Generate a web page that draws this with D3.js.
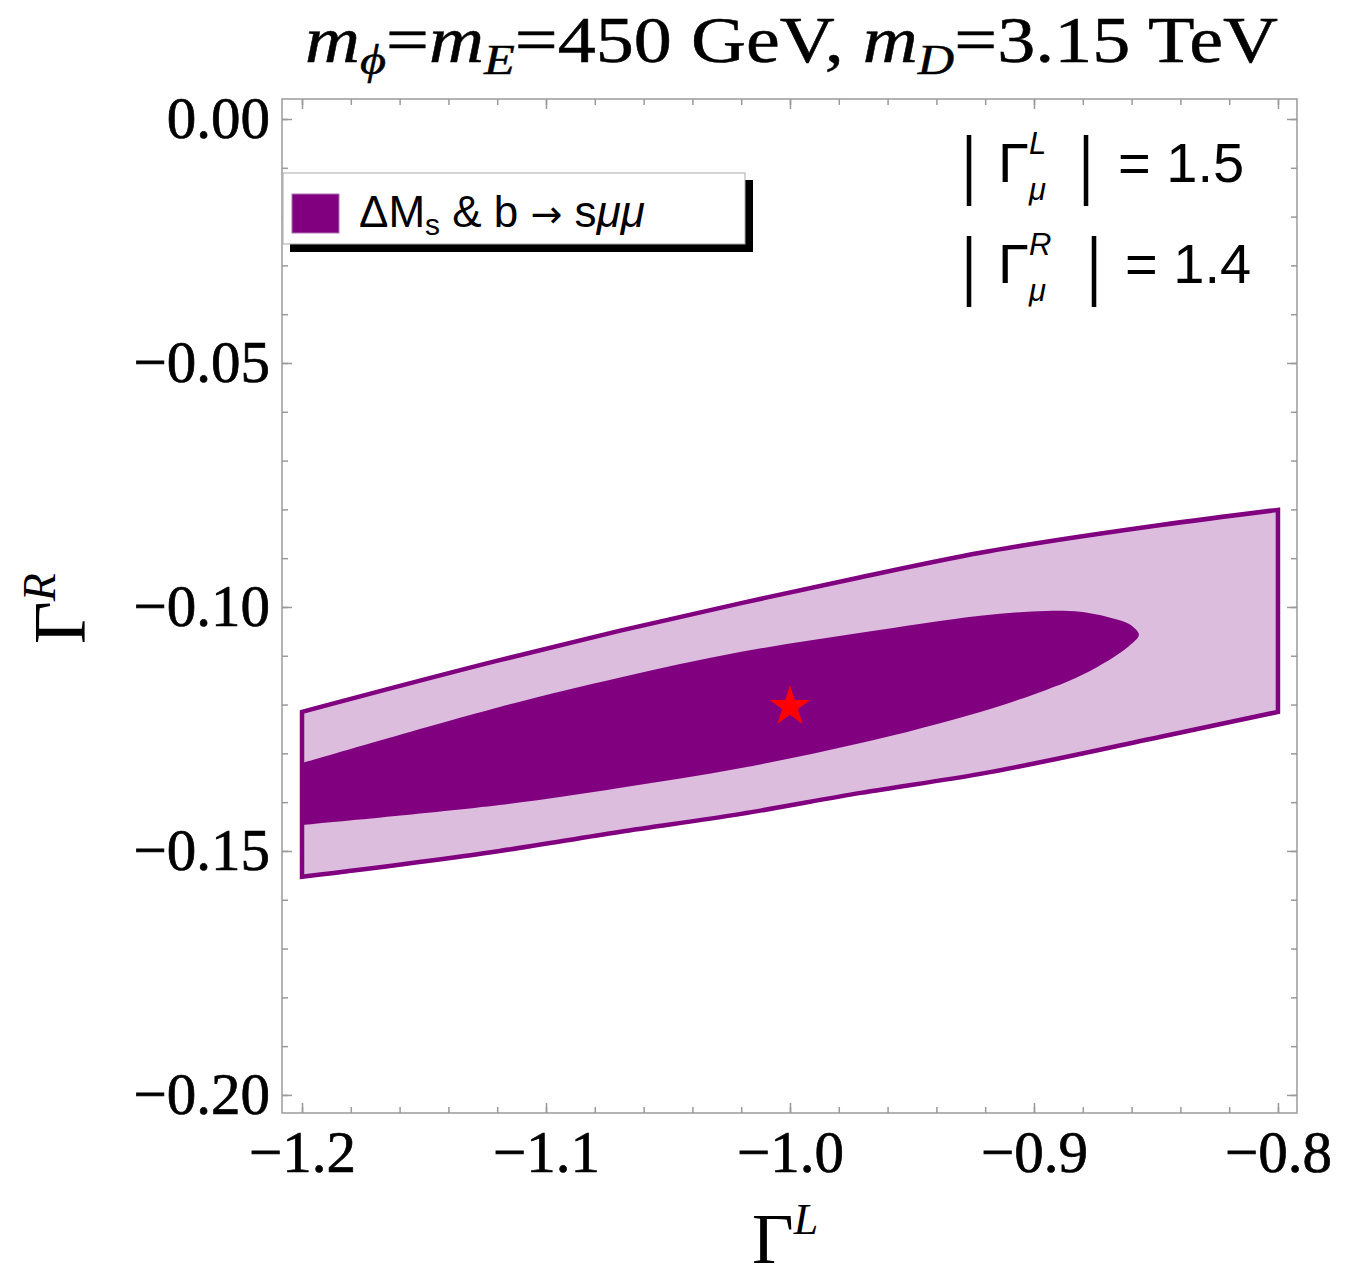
<!DOCTYPE html>
<html>
<head>
<meta charset="utf-8">
<script src="https://cdn.jsdelivr.net/npm/d3@7"></script>
<style>
  body { margin: 0; background: #fff; }
  svg { display: block; }
</style>
</head>
<body>
<svg id="chart"></svg>
<script>
// Outer allowed band (light)
const outerX = [-1.2, -1.119, -1.070, -1.020, -0.971, -0.922, -0.848, -0.8];
const outerTop = [-0.1215, -0.1109, -0.1049, -0.0992, -0.0939, -0.0889, -0.0832, -0.0801];
const outerBottom = [-0.1553, -0.1500, -0.1461, -0.1424, -0.1381, -0.1342, -0.1266, -0.1215];

// Inner region (dark), upper edge left -> tip, lower edge tip -> left
const innerUpperX = [-1.2, -1.119, -1.070, -1.020, -0.971, -0.922, -0.895, -0.881, -0.868, -0.861, -0.857];
const innerUpperY = [-0.1320, -0.1205, -0.1145, -0.1092, -0.1053, -0.1018, -0.1008, -0.1010, -0.1023, -0.1035, -0.1057];
const innerLowerX = [-0.861, -0.868, -0.881, -0.895, -0.922, -0.971, -1.020, -1.070, -1.119, -1.2];
const innerLowerY = [-0.1080, -0.1105, -0.1141, -0.1170, -0.1215, -0.1279, -0.1330, -0.1371, -0.1406, -0.1447];

// Best fit point
const starX = [-1.0];
const starY = [-0.12];

// Ticks
const xTickValues = [-1.2, -1.1, -1.0, -0.9, -0.8];
const yTickValues = [0, -0.05, -0.10, -0.15, -0.20];

const width = 1367, height = 1280;
const svg = d3.select("#chart").attr("width", width).attr("height", height);

const purple = "#800080";
const lightPurple = "#DDBDDD";
const frameGray = "#9a9a9a";

// frame box in pixels
const fLeft = 282, fRight = 1297, fTop = 99, fBottom = 1113;

const x = d3.scaleLinear().domain([-1.2082, -0.7922]).range([fLeft, fRight]);
const y = d3.scaleLinear().domain([0.0041, -0.2037]).range([fTop, fBottom]);

// light band
const band = outerX.map((v, i) => ({x: v, top: outerTop[i], bot: outerBottom[i]}));
const area = d3.area()
  .x(d => x(d.x))
  .y0(d => y(d.bot))
  .y1(d => y(d.top))
  .curve(d3.curveMonotoneX);

svg.append("path")
  .attr("d", area(band))
  .attr("fill", lightPurple);

// dark region
const inner = innerUpperX.map((v, i) => [v, innerUpperY[i]])
  .concat(innerLowerX.map((v, i) => [v, innerLowerY[i]]));
const innerLine = d3.line()
  .x(d => x(d[0]))
  .y(d => y(d[1]))
  .curve(d3.curveCatmullRom.alpha(0.5));

svg.append("path")
  .attr("d", innerLine(inner) + "Z")
  .attr("fill", purple);

// band outline on top
svg.append("path")
  .attr("d", area(band))
  .attr("fill", "none")
  .attr("stroke", purple)
  .attr("stroke-width", 4.5)
  .attr("stroke-linejoin", "miter");

// star
svg.selectAll(".star")
  .data(starX.map((v, i) => [v, starY[i]]))
  .enter()
  .append("path")
  .attr("class", "star")
  .attr("transform", d => `translate(${x(d[0])},${y(d[1]) + 2})`)
  .attr("d", d3.symbol().type(d3.symbolStar).size(520))
  .attr("fill", "#ff0000");

// frame
svg.append("rect")
  .attr("x", fLeft).attr("y", fTop)
  .attr("width", fRight - fLeft).attr("height", fBottom - fTop)
  .attr("fill", "none")
  .attr("stroke", frameGray)
  .attr("stroke-width", 1.5);

const xMinor = d3.range(-1.2, -0.799, 0.02);
const yMinor = d3.range(0, -0.2001, -0.01);

function styleAxis(g) {
  g.select(".domain").remove();
  g.selectAll("line").attr("stroke", frameGray).attr("stroke-width", 1.5);
  g.selectAll("text")
    .attr("fill", "#000")
    .attr("stroke", "#000")
    .attr("stroke-width", 0.7)
    .style("font-family", "'Liberation Serif', serif")
    .style("font-size", "59px");
}

// bottom
svg.append("g").attr("transform", `translate(0,${fBottom})`)
  .call(d3.axisBottom(x).tickValues(xMinor).tickSize(-6).tickFormat(""))
  .call(styleAxis);
svg.append("g").attr("transform", `translate(0,${fBottom})`)
  .call(d3.axisBottom(x).tickValues(xTickValues).tickSize(-10).tickPadding(17).tickFormat(d3.format(".1f")))
  .call(styleAxis);
// top
svg.append("g").attr("transform", `translate(0,${fTop})`)
  .call(d3.axisTop(x).tickValues(xMinor).tickSize(-6).tickFormat(""))
  .call(styleAxis);
svg.append("g").attr("transform", `translate(0,${fTop})`)
  .call(d3.axisTop(x).tickValues(xTickValues).tickSize(-10).tickFormat(""))
  .call(styleAxis);
// left
svg.append("g").attr("transform", `translate(${fLeft},0)`)
  .call(d3.axisLeft(y).tickValues(yMinor).tickSize(-6).tickFormat(""))
  .call(styleAxis);
svg.append("g").attr("transform", `translate(${fLeft},0)`)
  .call(d3.axisLeft(y).tickValues(yTickValues).tickSize(-10).tickPadding(12).tickFormat(d3.format(".2f")))
  .call(styleAxis);
// right
svg.append("g").attr("transform", `translate(${fRight},0)`)
  .call(d3.axisRight(y).tickValues(yMinor).tickSize(-6).tickFormat(""))
  .call(styleAxis);
svg.append("g").attr("transform", `translate(${fRight},0)`)
  .call(d3.axisRight(y).tickValues(yTickValues).tickSize(-10).tickFormat(""))
  .call(styleAxis);

// title
const title = svg.append("text")
  .attr("x", 305).attr("y", 62)
  .attr("textLength", 973)
  .attr("lengthAdjust", "spacingAndGlyphs")
  .attr("stroke", "#000").attr("stroke-width", 0.5)
  .style("font-family", "'Liberation Serif', serif")
  .style("font-size", "65px");
title.append("tspan").attr("font-style", "italic").text("m");
title.append("tspan").attr("font-style", "italic").attr("font-size", "43px").attr("dy", 12).text("ϕ");
title.append("tspan").attr("dy", -12).text("=");
title.append("tspan").attr("font-style", "italic").text("m");
title.append("tspan").attr("font-style", "italic").attr("font-size", "43px").attr("dy", 12).text("E");
title.append("tspan").attr("dy", -12).text("=450 GeV, ");
title.append("tspan").attr("font-style", "italic").text("m");
title.append("tspan").attr("font-style", "italic").attr("font-size", "43px").attr("dy", 12).text("D");
title.append("tspan").attr("dy", -12).text("=3.15 TeV");

// axis titles
const xTitle = svg.append("text")
  .attr("x", 752).attr("y", 1263)
  .style("font-family", "'Liberation Serif', serif")
  .style("font-size", "72px");
xTitle.append("tspan").text("Γ");
xTitle.append("tspan").attr("font-style", "italic").attr("font-size", "44px").attr("dy", -29).text("L");

const yTitle = svg.append("text")
  .attr("transform", "translate(85,644) rotate(-90)")
  .style("font-family", "'Liberation Serif', serif")
  .style("font-size", "74px");
yTitle.append("tspan").text("Γ");
yTitle.append("tspan").attr("font-style", "italic").attr("font-size", "46px").attr("dy", -30).text("R");

// legend
const legend = svg.append("g");
legend.append("rect")
  .attr("x", 290).attr("y", 180).attr("width", 463).attr("height", 72)
  .attr("fill", "#000");
legend.append("rect")
  .attr("x", 283).attr("y", 173).attr("width", 462).attr("height", 71)
  .attr("fill", "#fff").attr("stroke", "#aaa").attr("stroke-width", 1);
legend.append("rect")
  .attr("x", 292).attr("y", 194).attr("width", 47).attr("height", 39)
  .attr("fill", purple).attr("stroke", "#b070b0").attr("stroke-width", 1);
const legText = legend.append("text")
  .attr("x", 359).attr("y", 227)
  .style("font-family", "'Liberation Sans', Arial, sans-serif")
  .style("font-size", "44px");
legText.append("tspan").text("ΔM");
legText.append("tspan").attr("font-size", "30px").attr("dy", 8).text("s");
legText.append("tspan").attr("dy", -8).text(" & b ");
legText.append("tspan").style("font-family", "'DejaVu Sans', sans-serif").attr("font-size", "38px").text("→");
legText.append("tspan").text(" s");
legText.append("tspan").attr("font-style", "italic").text("μμ");

// coupling annotations
const notes = [
  {sup: "L", value: "= 1.5", base: 182, bar2: 1086, eq: 1118},
  {sup: "R", value: "= 1.4", base: 283, bar2: 1094, eq: 1125}
];
const sans = "'Liberation Sans', Arial, sans-serif";
notes.forEach(n => {
  const g = svg.append("g").style("font-family", sans);
  [969, n.bar2].forEach(bx => {
    g.append("text")
      .attr("transform", `translate(${bx},${n.base + 7.5}) scale(1,1.35)`)
      .attr("text-anchor", "middle")
      .style("font-size", "56px")
      .text("|");
  });
  g.append("text").attr("x", 998).attr("y", n.base).style("font-size", "56px").text("Γ");
  g.append("text").attr("x", 1029).attr("y", n.base - 28).style("font-size", "31px")
    .attr("font-style", "italic").text(n.sup);
  g.append("text").attr("x", 1029).attr("y", n.base + 18).style("font-size", "31px")
    .attr("font-style", "italic").text("μ");
  g.append("text").attr("x", n.eq).attr("y", n.base).style("font-size", "56px").text(n.value);
});
</script>
</body>
</html>
